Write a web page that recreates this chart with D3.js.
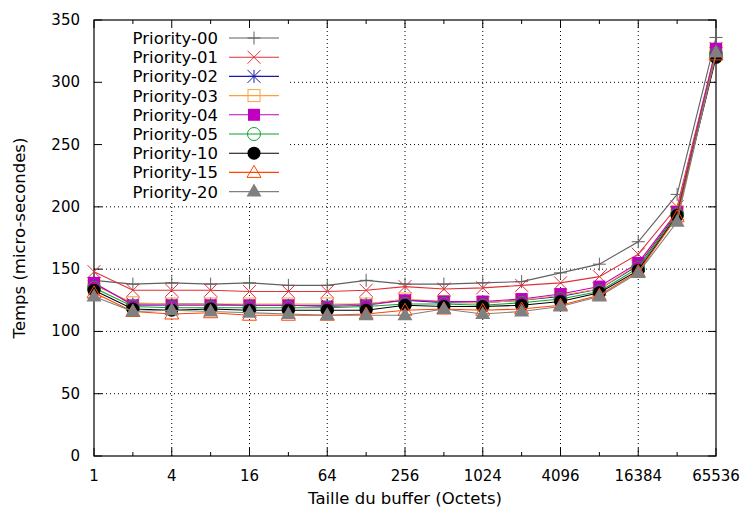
<!DOCTYPE html>
<html><head><meta charset="utf-8">
<script src="https://cdn.jsdelivr.net/npm/d3@7"></script>
<style>body{margin:0;background:#fff}svg{display:block}text{font-family:"DejaVu Sans",sans-serif}</style>
</head><body><svg id="c" width="747" height="513"></svg>
<script>
const sizes = [1,2,4,8,16,32,64,128,256,512,1024,2048,4096,8192,16384,32768,65536];
const xTickLabels = [1,4,16,64,256,1024,4096,16384,65536];
const yTicks = [0,50,100,150,200,250,300,350];
const names = ["Priority-00","Priority-01","Priority-02","Priority-03","Priority-04","Priority-05","Priority-10","Priority-15","Priority-20"];
const colors = ["#606060","#e0303a","#1a1aa8","#ffa040","#c000c0","#10a030","#000000","#ff4500","#808080"];
const markers = ["plus","cross","star","square","fsquare","circle","fcircle","triangle","ftriangle"];
const p00 = [141,138,139,138,139,137,137,141,138,138,139,140,147,154,172,210,336];
const p01 = [148,133,133,133,132,132,132,133,136,134,135,137,139,144,162,200,327];
const p02 = [138,122,122,122,121,121,121,122,125,123,123,125,128,134,153,195,323];
const p03 = [137,123,122,122,122,122,122,122,126,124,123,125,129,134,154,196,326];
const p04 = [139,121,121,121,121,121,120,121,125,124,124,126,130,136,155,196,327];
const p05 = [135,120,119,119,119,119,119,120,122,122,121,123,126,132,151,194,323];
const p10 = [133,118,117,118,117,117,117,117,121,120,120,121,124,131,149,193,320];
const p15 = [131,116,114,115,113,113,113,114,117,118,117,118,121,129,148,192,322];
const p20 = [128,116,117,116,115,114,113,113,113,118,114,116,120,128,147,188,324];
const series = [p00,p01,p02,p03,p04,p05,p10,p15,p20];

const svg = d3.select("#c");
const L=94, R=716, T=20, B=456;
const x = d3.scaleLog().base(2).domain([1,65536]).range([L,R]);
const y = d3.scaleLinear().domain([0,350]).range([B,T]);

// grid
const g = svg.append("g");
g.selectAll(".gx").data(xTickLabels.slice(1,-1)).join("line")
  .attr("x1",d=>x(d)).attr("x2",d=>x(d)).attr("y1",B).attr("y2",T)
  .attr("stroke","#000").attr("stroke-width",1).attr("stroke-dasharray","1,3");
g.selectAll(".gy").data(yTicks.slice(1,-1)).join("line")
  .attr("x1",L).attr("x2",R).attr("y1",d=>y(d)).attr("y2",d=>y(d))
  .attr("stroke","#000").attr("stroke-width",1).attr("stroke-dasharray","1,3");

// legend background (covers grid)
svg.append("rect").attr("x",L+1).attr("y",T+1).attr("width",192).attr("height",179).attr("fill","#fff");

// ticks
const tk = svg.append("g").attr("stroke","#000").attr("stroke-width",1);
yTicks.forEach(v=>{
  tk.append("line").attr("x1",L).attr("x2",L+8).attr("y1",y(v)).attr("y2",y(v));
  tk.append("line").attr("x1",R).attr("x2",R-8).attr("y1",y(v)).attr("y2",y(v));
});
sizes.forEach((v,i)=>{
  const len = (i%2===0)?8:4;
  tk.append("line").attr("x1",x(v)).attr("x2",x(v)).attr("y1",B).attr("y2",B-len);
  tk.append("line").attr("x1",x(v)).attr("x2",x(v)).attr("y1",T).attr("y2",T+len);
});
svg.append("rect").attr("x",L).attr("y",T).attr("width",R-L).attr("height",B-T)
  .attr("fill","none").attr("stroke","#000").attr("stroke-width",1.2);

// labels
svg.selectAll(".yl").data(yTicks).join("text").attr("x",L-14).attr("y",d=>y(d)+5)
  .attr("text-anchor","end").attr("font-size",15).text(d=>d);
svg.selectAll(".xl").data(xTickLabels).join("text").attr("x",d=>x(d)).attr("y",B+25)
  .attr("text-anchor","middle").attr("font-size",15).text(d=>d);
svg.append("text").attr("x",(L+R)/2).attr("y",504).attr("text-anchor","middle").attr("font-size",16.5).text("Taille du buffer (Octets)");
svg.append("text").attr("transform",`translate(25,${(T+B)/2}) rotate(-90)`).attr("text-anchor","middle").attr("font-size",16.5).text("Temps (micro-secondes)");

function marker(sel, type, cx, cy, col){
  const s=6.5;
  const gg = sel.append("g").attr("transform",`translate(${cx},${cy})`);
  const st = {stroke:col,"stroke-width":1,fill:"none"};
  const ap=(e,o)=>{for(const k in o)e.attr(k,o[k]);return e;};
  if(type==="plus"){ap(gg.append("path").attr("d",`M${-s},0H${s}M0,${-s}V${s}`),st);}
  else if(type==="cross"){ap(gg.append("path").attr("d",`M${-s},${-s}L${s},${s}M${-s},${s}L${s},${-s}`),st);}
  else if(type==="star"){ap(gg.append("path").attr("d",`M${-s},0H${s}M0,${-s}V${s}M${-s},${-s}L${s},${s}M${-s},${s}L${s},${-s}`),st);}
  else if(type==="square"){ap(gg.append("rect").attr("x",-6).attr("y",-6).attr("width",12).attr("height",12),st);}
  else if(type==="fsquare"){gg.append("rect").attr("x",-6).attr("y",-6).attr("width",12).attr("height",12).attr("fill",col);}
  else if(type==="circle"){ap(gg.append("circle").attr("r",6.5),st);}
  else if(type==="fcircle"){gg.append("circle").attr("r",6.5).attr("fill",col);}
  else if(type==="triangle"){ap(gg.append("path").attr("d","M0,-7L7,5H-7Z"),st);}
  else if(type==="ftriangle"){gg.append("path").attr("d","M0,-8L7.5,5H-7.5Z").attr("fill",col);}
}

const line = d3.line().x((d,i)=>x(sizes[i])).y(d=>y(d));
const plot = svg.append("g");
series.forEach((s,k)=>{
  plot.append("path").datum(s).attr("d",line).attr("fill","none").attr("stroke",colors[k]).attr("stroke-width",1.1);
  s.forEach((v,i)=>marker(plot,markers[k],x(sizes[i]),y(v),colors[k]));
});

// legend
const lg = svg.append("g");
names.forEach((n,k)=>{
  const yy = 38 + k*19.2;
  lg.append("text").attr("x",218).attr("y",yy+6).attr("text-anchor","end").attr("font-size",16.5).text(n);
  lg.append("line").attr("x1",229).attr("x2",279).attr("y1",yy).attr("y2",yy).attr("stroke",colors[k]).attr("stroke-width",1.1);
  marker(lg,markers[k],254,yy,colors[k]);
});
</script></body></html>
